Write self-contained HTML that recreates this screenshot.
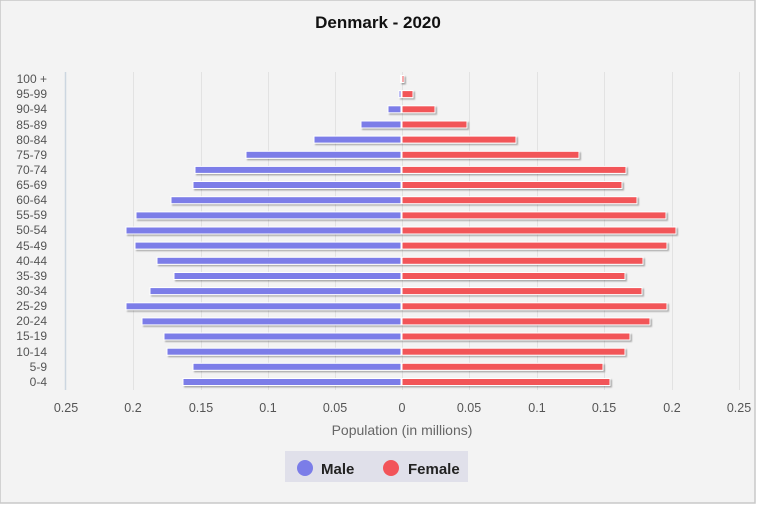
<!DOCTYPE html>
<html><head><meta charset="utf-8"><style>
html,body{margin:0;padding:0;background:#fff}
svg{display:block;font-family:"Liberation Sans",sans-serif}
</style></head><body>
<svg width="758" height="506" viewBox="0 0 758 506" xmlns="http://www.w3.org/2000/svg">
<defs><filter id="sh" x="-5%" y="-50%" width="110%" height="250%"><feDropShadow dx="1.5" dy="1.5" stdDeviation="0.8" flood-color="#000" flood-opacity="0.3"/></filter></defs>
<rect x="0" y="0" width="755" height="503" fill="#f3f3f3" stroke="#c8c8c8" stroke-width="1.5"/>
<text x="378" y="28" text-anchor="middle" font-size="17" font-weight="bold" fill="#111">Denmark - 2020</text>
<g stroke="#e2e2e2" stroke-width="1">
<line x1="133.5" y1="72" x2="133.5" y2="390"/><line x1="201.5" y1="72" x2="201.5" y2="390"/><line x1="268.5" y1="72" x2="268.5" y2="390"/><line x1="335.5" y1="72" x2="335.5" y2="390"/><line x1="402.5" y1="72" x2="402.5" y2="390"/><line x1="469.5" y1="72" x2="469.5" y2="390"/><line x1="537.5" y1="72" x2="537.5" y2="390"/><line x1="604.5" y1="72" x2="604.5" y2="390"/><line x1="672.5" y1="72" x2="672.5" y2="390"/><line x1="739.5" y1="72" x2="739.5" y2="390"/>
</g>
<line x1="65.5" y1="72" x2="65.5" y2="390" stroke="#ccd6e0" stroke-width="1.5"/>
<g font-size="12" fill="#555" text-anchor="end">
<text x="47" y="83">100 +</text><text x="47" y="98">95-99</text><text x="47" y="113">90-94</text><text x="47" y="129">85-89</text><text x="47" y="144">80-84</text><text x="47" y="159">75-79</text><text x="47" y="174">70-74</text><text x="47" y="189">65-69</text><text x="47" y="204">60-64</text><text x="47" y="219">55-59</text><text x="47" y="234">50-54</text><text x="47" y="250">45-49</text><text x="47" y="265">40-44</text><text x="47" y="280">35-39</text><text x="47" y="295">30-34</text><text x="47" y="310">25-29</text><text x="47" y="325">20-24</text><text x="47" y="340">15-19</text><text x="47" y="356">10-14</text><text x="47" y="371">5-9</text><text x="47" y="386">0-4</text>
</g>
<g fill="#7b7de8" stroke="#fff" stroke-width="1" filter="url(#sh)">
<rect x="400.5" y="75.5" width="1" height="7"/>
<rect x="399" y="90.6" width="2" height="7"/>
<rect x="388" y="105.8" width="13" height="7"/>
<rect x="361" y="121" width="40" height="7"/>
<rect x="314" y="136.1" width="87" height="7"/>
<rect x="246" y="151.3" width="155" height="7"/>
<rect x="195" y="166.4" width="206" height="7"/>
<rect x="193" y="181.5" width="208" height="7"/>
<rect x="171" y="196.7" width="230" height="7"/>
<rect x="136" y="211.9" width="265" height="7"/>
<rect x="126" y="227" width="275" height="7"/>
<rect x="135" y="242.1" width="266" height="7"/>
<rect x="157" y="257.3" width="244" height="7"/>
<rect x="174" y="272.5" width="227" height="7"/>
<rect x="150" y="287.6" width="251" height="7"/>
<rect x="126" y="302.8" width="275" height="7"/>
<rect x="142" y="317.9" width="259" height="7"/>
<rect x="164" y="333" width="237" height="7"/>
<rect x="167" y="348.2" width="234" height="7"/>
<rect x="193" y="363.3" width="208" height="7"/>
<rect x="183" y="378.5" width="218" height="7"/>
</g>
<g fill="#f25459" stroke="#fff" stroke-width="1" filter="url(#sh)">
<rect x="402" y="75.5" width="2" height="7"/>
<rect x="402" y="90.6" width="11" height="7"/>
<rect x="402" y="105.8" width="33" height="7"/>
<rect x="402" y="121" width="65" height="7"/>
<rect x="402" y="136.1" width="114" height="7"/>
<rect x="402" y="151.3" width="177" height="7"/>
<rect x="402" y="166.4" width="224" height="7"/>
<rect x="402" y="181.5" width="220" height="7"/>
<rect x="402" y="196.7" width="235" height="7"/>
<rect x="402" y="211.9" width="264" height="7"/>
<rect x="402" y="227" width="274" height="7"/>
<rect x="402" y="242.1" width="265" height="7"/>
<rect x="402" y="257.3" width="241" height="7"/>
<rect x="402" y="272.5" width="223" height="7"/>
<rect x="402" y="287.6" width="240" height="7"/>
<rect x="402" y="302.8" width="265" height="7"/>
<rect x="402" y="317.9" width="248" height="7"/>
<rect x="402" y="333" width="228" height="7"/>
<rect x="402" y="348.2" width="223" height="7"/>
<rect x="402" y="363.3" width="201" height="7"/>
<rect x="402" y="378.5" width="208" height="7"/>
</g>
<g font-size="12.5" fill="#555" text-anchor="middle">
<text x="66" y="412">0.25</text><text x="133" y="412">0.2</text><text x="201" y="412">0.15</text><text x="268" y="412">0.1</text><text x="335" y="412">0.05</text><text x="402" y="412">0</text><text x="469" y="412">0.05</text><text x="537" y="412">0.1</text><text x="604" y="412">0.15</text><text x="672" y="412">0.2</text><text x="739" y="412">0.25</text>
</g>
<text x="402" y="435" text-anchor="middle" font-size="14" fill="#666">Population (in millions)</text>
<rect x="285" y="451" width="183" height="31" fill="#e0e0ea"/>
<circle cx="305" cy="468" r="8" fill="#7b7de8"/>
<text x="321" y="474" font-size="15" font-weight="bold" fill="#222">Male</text>
<circle cx="391" cy="468" r="8" fill="#f25459"/>
<text x="408" y="474" font-size="15" font-weight="bold" fill="#222">Female</text>
</svg>
</body></html>
